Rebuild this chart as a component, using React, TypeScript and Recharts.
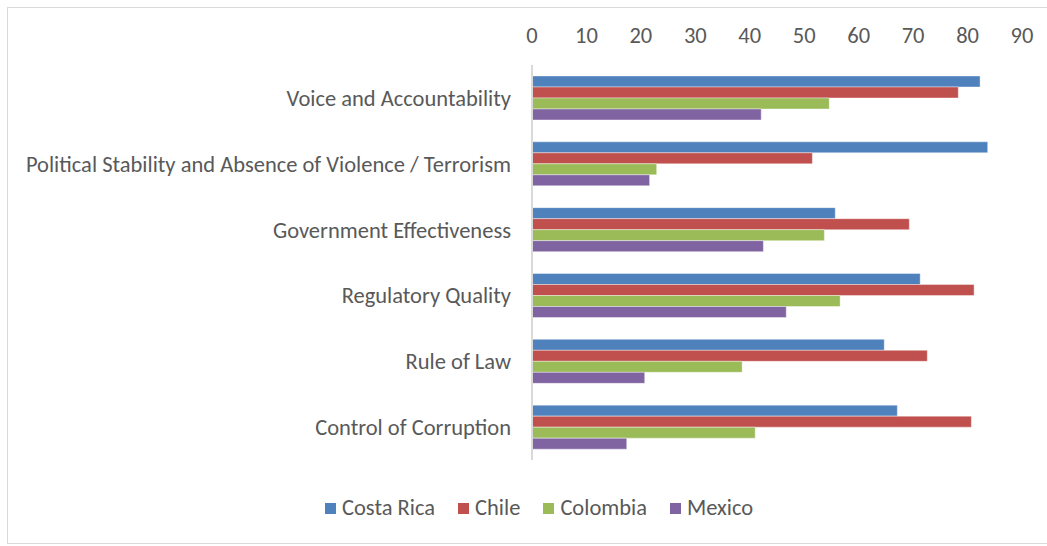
import React from 'react';
import { BarChart, Bar, XAxis, YAxis } from 'recharts';

const categories = [
  'Voice and Accountability',
  'Political Stability and Absence of Violence / Terrorism',
  'Government Effectiveness',
  'Regulatory Quality',
  'Rule of Law',
  'Control of Corruption',
];
const costaRica = [82.3, 83.7, 55.7, 71.3, 64.7, 67.1];
const chile = [78.3, 51.5, 69.3, 81.2, 72.6, 80.7];
const colombia = [54.6, 22.9, 53.7, 56.6, 38.6, 41.0];
const mexico = [42.1, 21.6, 42.5, 46.7, 20.7, 17.4];
const xTicks = [0, 10, 20, 30, 40, 50, 60, 70, 80, 90];

const seriesNames = ['Costa Rica', 'Chile', 'Colombia', 'Mexico'];
const seriesColors = ['#4F81BD', '#C0504D', '#9BBB59', '#8064A2'];
const seriesKeys = ['cr', 'cl', 'co', 'mx'];

const data = categories.map((c, i) => ({
  name: c,
  cr: costaRica[i],
  cl: chile[i],
  co: colombia[i],
  mx: mexico[i],
}));

const FONT = 'Carlito, Calibri, "Liberation Sans", sans-serif';
const TEXT = '#595959';
const FS = 22.5;

export default function App() {
  return (
    <div style={{ position: 'absolute', left: 0, top: 0, width: 1047, height: 546, background: '#fff' }}>
      <div style={{ position: 'absolute', left: 7, top: 7, width: 1045, height: 537, border: '1.5px solid #d9d9d9', boxSizing: 'border-box' }} />
      <div style={{ position: 'absolute', left: 0, top: 0 }}>
        <BarChart
          width={1047}
          height={546}
          data={data}
          layout="vertical"
          margin={{ top: 20, right: 25, bottom: 86, left: 0 }}
          barCategoryGap="16.7%"
          barGap={0}
        >
          <XAxis
            type="number"
            orientation="top"
            domain={[0, 90]}
            ticks={xTicks}
            height={45}
            axisLine={false}
            tickLine={false}
            tickSize={0}
            tickMargin={22}
            tick={{ fill: TEXT, fontSize: FS, fontFamily: FONT }}
            interval={0}
          />
          <YAxis
            type="category"
            dataKey="name"
            width={532}
            axisLine={{ stroke: '#d9d9d9', strokeWidth: 2 }}
            tickLine={false}
            tickSize={0}
            tickMargin={21}
            tick={{ fill: TEXT, fontSize: FS, fontFamily: FONT }}
            interval={0}
          />
          {seriesKeys.map((k, i) => (
            <Bar key={k} dataKey={k} name={seriesNames[i]} fill={seriesColors[i]} stroke="#ffffff" strokeOpacity={0.4} strokeWidth={1} isAnimationActive={false} />
          ))}
        </BarChart>
      </div>
      <div style={{ position: 'absolute', left: 325, top: 494, display: 'flex', fontFamily: FONT, fontSize: FS, color: TEXT, lineHeight: '28px', whiteSpace: 'nowrap' }}>
        {seriesNames.map((n, i) => (
          <div key={n} style={{ display: 'flex', alignItems: 'center', marginRight: 23 }}>
            <span style={{ display: 'inline-block', width: 11, height: 11, background: seriesColors[i], marginRight: 6 }} />
            <span>{n}</span>
          </div>
        ))}
      </div>
    </div>
  );
}
